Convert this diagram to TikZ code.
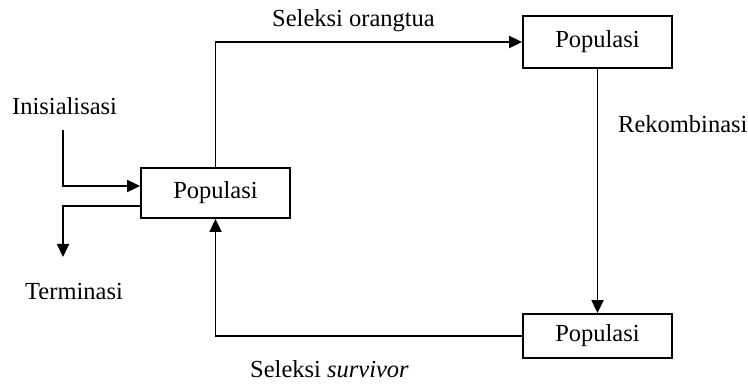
\documentclass[tikz,border=0pt]{standalone}
\usepackage{fontspec}
\setmainfont{Liberation Serif}
\usetikzlibrary{arrows.meta}
\begin{document}
\begin{tikzpicture}[x=1pt,y=-1pt,
  box/.style={draw,line width=1.8pt,inner sep=0pt},
  lbl/.style={inner sep=0pt,anchor=base west,font=\fontsize{24.5}{29}\selectfont},
  conn/.style={line width=1.8pt,-{Triangle[length=13pt,width=12pt]}},
  plain/.style={line width=1.8pt}]
\useasboundingbox (0,0) rectangle (748,385);
\node[box,minimum width=149pt,minimum height=50pt,font=\fontsize{24.5}{29}\selectfont] (p1) at (215.5,193) {Populasi};
\node[box,minimum width=149pt,minimum height=52pt,font=\fontsize{24.5}{29}\selectfont] (p2) at (597.5,42) {Populasi};
\node[box,minimum width=149pt,minimum height=44pt,font=\fontsize{24.5}{29}\selectfont] (p3) at (597.5,336) {Populasi};
\node[lbl] (ini) at (12,115) {Inisialisasi};
\node[lbl] (ter) at (25,299) {Terminasi};
\node[lbl] (so) at (272,27) {Seleksi orangtua};
\node[lbl] (rek) at (618,133) {Rekombinasi};
\node[lbl] (ss) at (250,377) {Seleksi \textit{survivor}};
\coordinate (a1) at (63,130);
\coordinate (a2) at (63,186);
\coordinate (t1) at (63,206);
\coordinate (t2) at (63,257);
\draw[conn] (a1) -- (a2) -- (p1.west |- a2);
\draw[conn] (p1.west |- t1) -- (t1) -- (t2);
\draw[conn] (p1.north) |- (p2.west);
\draw[conn] (p2.south) -- (p3.north);
\draw[conn] (p3.west) -| (p1.south);
\end{tikzpicture}
\end{document}
